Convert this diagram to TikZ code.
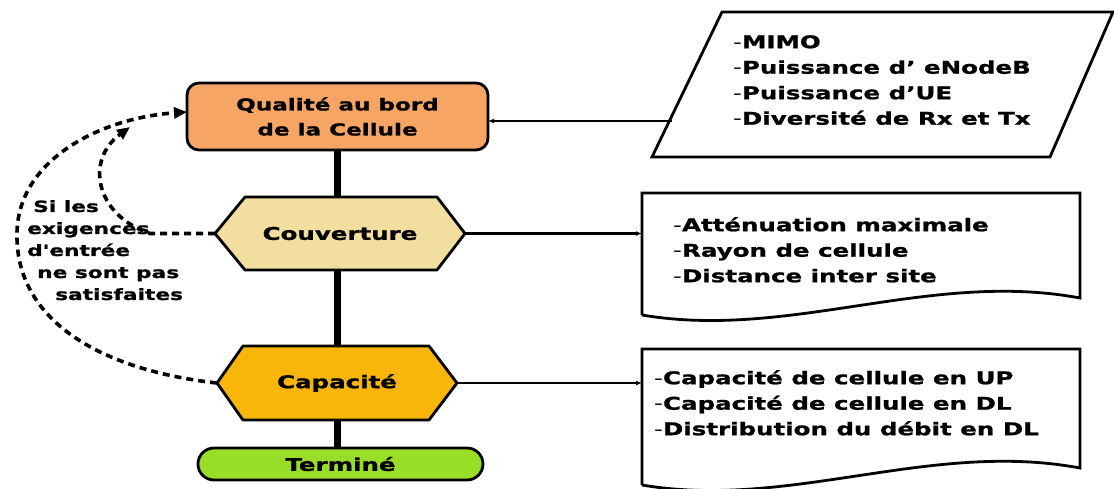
\documentclass[tikz,border=0pt]{standalone}
\usepackage{fontspec}
\setmainfont{DejaVu Sans}[FakeStretch=1.4, BoldFeatures={FakeBold=1.2}]
\newfontfamily\plainfont{DejaVu Sans}[FakeStretch=1.4, BoldFeatures={FakeBold=1.2}]
\usetikzlibrary{arrows.meta,calc}
\pgfdeclarelayer{bg}
\pgfsetlayers{bg,main}

\definecolor{qualfill}{RGB}{247,165,100}
\definecolor{couvfill}{RGB}{242,222,158}
\definecolor{capafill}{RGB}{250,182,8}
\definecolor{termfill}{RGB}{152,222,40}

\tikzset{
  boxline/.style={draw=black, line width=2.8pt, line join=round},
  stagenode/.style={inner sep=0pt, outer sep=0pt, font=\bfseries\fontsize{17.5}{25}\selectfont},
  listtext/.style={anchor=north west, align=left, inner sep=0pt,
                   font=\bfseries\fontsize{17.5}{25.5}\selectfont},
  trunk/.style={line width=6.5pt},
  feed/.style={line width=2.4pt, -{Latex[length=6pt,width=5pt]}},
  retour/.style={line width=3.6pt, dash pattern=on 7pt off 5pt,
                 -{Triangle[length=13pt,width=11pt]}},
}

\begin{document}
\begin{tikzpicture}[x=1pt,y=-1pt]
\useasboundingbox (0,0) rectangle (1114,488);

% --- main flow -------------------------------------------------------
\node[stagenode, boxline, fill=qualfill, rounded corners=12pt,
      minimum width=301pt, minimum height=67pt, align=center,
      font=\bfseries\fontsize{16.5}{25}\selectfont]
  (qual) at (337.5,116.5) {Qualité au bord\\de la Cellule};

\node[stagenode, minimum width=250pt, minimum height=73pt]
  (couv) at (340,233.5) {Couverture};
\node[stagenode, minimum width=240pt, minimum height=74pt]
  (capa) at (337,383) {Capacité};

\node[stagenode, boxline, fill=termfill, rounded corners=16pt,
      minimum width=285pt, minimum height=32pt]
  (term) at (340.5,464) {Terminé};

\begin{pgfonlayer}{bg}
  \draw[boxline, fill=couvfill]
    (couv.west) -- ([xshift=30pt]couv.north west) -- ([xshift=-28pt]couv.north east)
    -- (couv.east) -- ([xshift=-28pt]couv.south east) -- ([xshift=30pt]couv.south west) -- cycle;
  \draw[boxline, fill=capafill]
    (capa.west) -- ([xshift=26pt]capa.north west) -- ([xshift=-28pt]capa.north east)
    -- (capa.east) -- ([xshift=-28pt]capa.south east) -- ([xshift=26pt]capa.south west) -- cycle;
\end{pgfonlayer}

\draw[trunk] (qual.south) -- (qual.south |- couv.north);
\draw[trunk] (qual.south |- couv.south) -- (qual.south |- capa.north);
\draw[trunk] (qual.south |- capa.south) -- (qual.south |- term.north);

% --- input parameters (parallelogram) ---------------------------------
\draw[boxline, line join=miter] (722,12) -- (1113,12) -- (1050,157) -- (652,157) -- cycle;
\node[listtext] (params) at (733,35)
  {\textmd{-}MIMO\\\textmd{-}Puissance d’ eNodeB\\\textmd{-}Puissance d’UE\\\textmd{-}Diversité de Rx et Tx};
\coordinate (paramin) at (672,121);
\draw[feed] (paramin) -- (paramin -| qual.east);

% --- coverage outputs (document) ---------------------------------------
\draw[boxline, line join=miter] (642,315) -- (642,193) -- (1080,193) -- (1080,298)
  .. controls (930,270) and (790,340) .. (642,315);
\node[listtext] (couvout) at (673,217)
  {\textmd{-}Atténuation maximale\\\textmd{-}Rayon de cellule\\\textmd{-}Distance inter site};
\coordinate (couvin) at (642,233.5);
\draw[feed] (couv.east) -- (couvin);

% --- capacity outputs (document) ---------------------------------------
\draw[boxline, line join=miter] (642,485) -- (642,349) -- (1080,349) -- (1080,468)
  .. controls (930,440) and (790,510) .. (642,485);
\node[listtext] (capaout) at (654,370)
  {\textmd{-}Capacité de cellule en UP\\\textmd{-}Capacité de cellule en DL\\\textmd{-}Distribution du débit en DL};
\coordinate (capain) at (642,383);
\draw[feed] (capa.east) -- (capain);

% --- feedback loops ----------------------------------------------------
\coordinate (innerbend) at (150,233.5);
\coordinate (innertip) at (130,127);
\draw[retour] (couv.west) -- (innerbend) .. controls (95,215) and (85,160) .. (innertip);
\coordinate (outermid) at (17,233);
\coordinate (outertip) at (qual.west |- 0,112);
\draw[retour] (capa.west) .. controls (100,370) and (15,320) .. (outermid)
  .. controls (18,160) and (100,118) .. (outertip);

\node[anchor=north west, align=left, inner sep=0pt,
      font=\plainfont\bfseries\fontsize{15.5}{22}\selectfont] (cond) at (27,200)
  {\hspace*{6pt}Si les\\exigences\\d'entrée\\\hspace*{10pt}ne sont pas\\\hspace*{28pt}satisfaites};
\end{tikzpicture}
\end{document}
